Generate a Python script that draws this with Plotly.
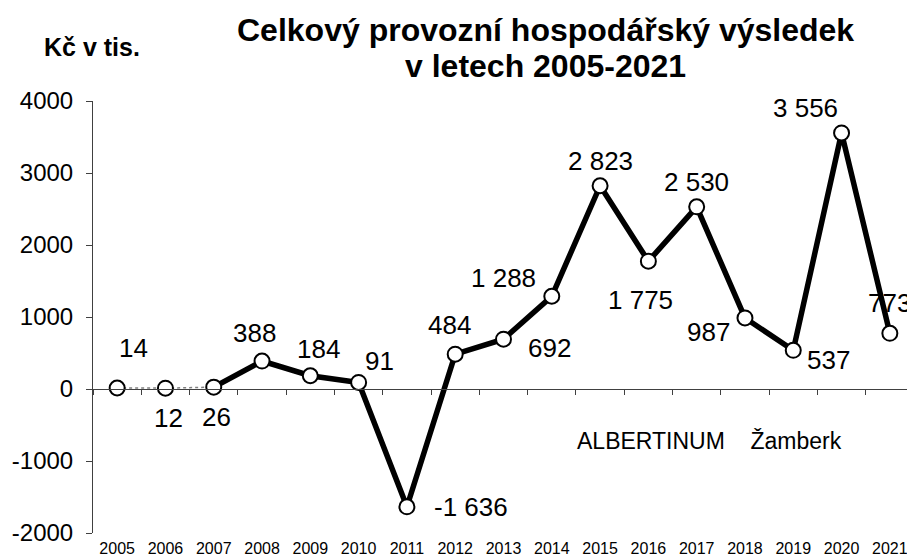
import plotly.graph_objects as go

YEARS = ["2005", "2006", "2007", "2008", "2009", "2010", "2011", "2012", "2013",
         "2014", "2015", "2016", "2017", "2018", "2019", "2020", "2021"]
VALUES = [14, 12, 26, 388, 184, 91, -1636, 484, 692, 1288, 2823, 1775, 2530,
          987, 537, 3556, 773]
VALUE_LABELS = ["14", "12", "26", "388", "184", "91", "-1 636", "484", "692",
                "1 288", "2 823", "1 775", "2 530", "987", "537", "3 556", "773"]
Y_TICKS = [-2000, -1000, 0, 1000, 2000, 3000, 4000]
Y_TICK_LABELS = ["-2000", "-1000", "0", "1000", "2000", "3000", "4000"]
TITLE_LINES = ["Celkový provozní hospodářský výsledek", "v letech 2005-2021"]
UNIT = "Kč v tis."
NOTE = "ALBERTINUM\u00a0\u00a0\u00a0\u00a0Žamberk"

# label offsets (pixels) relative to each point: (dx, dy up)
LABEL_OFFSETS = [(16, 40), (3, -30), (3, -30), (-8, 28), (8, 27), (21, 21),
                 (64, 0), (-6, 29), (46, -9), (-48, 18), (0, 25), (-8, -39),
                 (0, 25), (-36, -14), (35, -10), (-36, 25), (0, 30)]

FONT = "Liberation Sans, Arial, sans-serif"

# page body has an 8px margin; figure is sized so it fills the 915x560 window
OFF = 8
W, H = 915 - OFF, 560 - OFF
L, R, T, B = 93 - OFF, 1, 101 - OFF, 27
PW, PH = W - L - R, H - T - B


def paper_xy(px, py):
    """reference-window pixel -> paper coords"""
    return (px - OFF - L) / PW, (H - B - (py - OFF)) / PH


fig = go.Figure()

fig.add_trace(go.Scatter(x=YEARS[:3], y=VALUES[:3], mode="lines",
                         line=dict(color="#808080", width=1.5, dash="dot"),
                         hoverinfo="skip", showlegend=False))
fig.add_trace(go.Scatter(x=YEARS[2:], y=VALUES[2:], mode="lines",
                         line=dict(color="black", width=5.5),
                         hoverinfo="skip", showlegend=False))
fig.add_trace(go.Scatter(x=YEARS, y=VALUES, mode="markers",
                         marker=dict(size=15, color="white",
                                     line=dict(color="black", width=2)),
                         showlegend=False))
fig.add_trace(go.Scatter(x=list(range(len(YEARS))), y=VALUES, mode="lines",
                         line=dict(width=0), opacity=0, xaxis="x2",
                         hoverinfo="skip", showlegend=False))

for i, (v, t, (dx, dy)) in enumerate(zip(VALUES, VALUE_LABELS, LABEL_OFFSETS)):
    fig.add_annotation(x=i, y=v, xref="x", yref="y", text=t, showarrow=False,
                       xshift=dx, yshift=dy,
                       font=dict(family=FONT, size=26, color="black"))

x, y = paper_xy(545, 30)
fig.add_annotation(x=x, y=y, xref="paper", yref="paper",
                   text="<b>" + TITLE_LINES[0] + "</b>", showarrow=False,
                   xanchor="center", yanchor="middle",
                   font=dict(family=FONT, size=32, color="black"))
x, y = paper_xy(545, 66)
fig.add_annotation(x=x, y=y, xref="paper", yref="paper",
                   text="<b>" + TITLE_LINES[1] + "</b>", showarrow=False,
                   xanchor="center", yanchor="middle",
                   font=dict(family=FONT, size=32, color="black"))
x, y = paper_xy(92, 47)
fig.add_annotation(x=x, y=y, xref="paper", yref="paper",
                   text="<b>" + UNIT + "</b>", showarrow=False,
                   xanchor="center", yanchor="middle",
                   font=dict(family=FONT, size=25, color="black"))
x, y = paper_xy(575, 441)
fig.add_annotation(x=x, y=y, xref="paper", yref="paper",
                   text=NOTE, showarrow=False,
                   xanchor="left", yanchor="middle",
                   font=dict(family=FONT, size=23, color="black"))

fig.update_layout(
    width=W, height=H,
    margin=dict(l=L, r=R, t=T, b=B, autoexpand=False),
    paper_bgcolor="white", plot_bgcolor="white",
    font=dict(family=FONT, color="black"),
    xaxis=dict(type="category", range=[-0.5, 16.5], showline=False,
               showgrid=False, zeroline=False, ticks="",
               ticklabelstandoff=4,
               tickfont=dict(size=16, family=FONT, color="black")),
    xaxis2=dict(overlaying="x", anchor="free", position=1 / 3,
                range=[-0.5, 16.5], tick0=-0.5, dtick=1, showline=True,
                linecolor="#404040", linewidth=1, ticks="outside", ticklen=5,
                tickcolor="#404040", showticklabels=False, showgrid=False,
                zeroline=False),
    yaxis=dict(range=[-2000, 4000], tickvals=Y_TICKS, ticktext=Y_TICK_LABELS,
               showline=True, linecolor="#404040", linewidth=1,
               ticks="outside", ticklen=6, tickcolor="#404040",
               showgrid=False, zeroline=False, ticklabelstandoff=8,
               tickfont=dict(size=24, family=FONT, color="black")),
)

fig.write_html("out.html")
